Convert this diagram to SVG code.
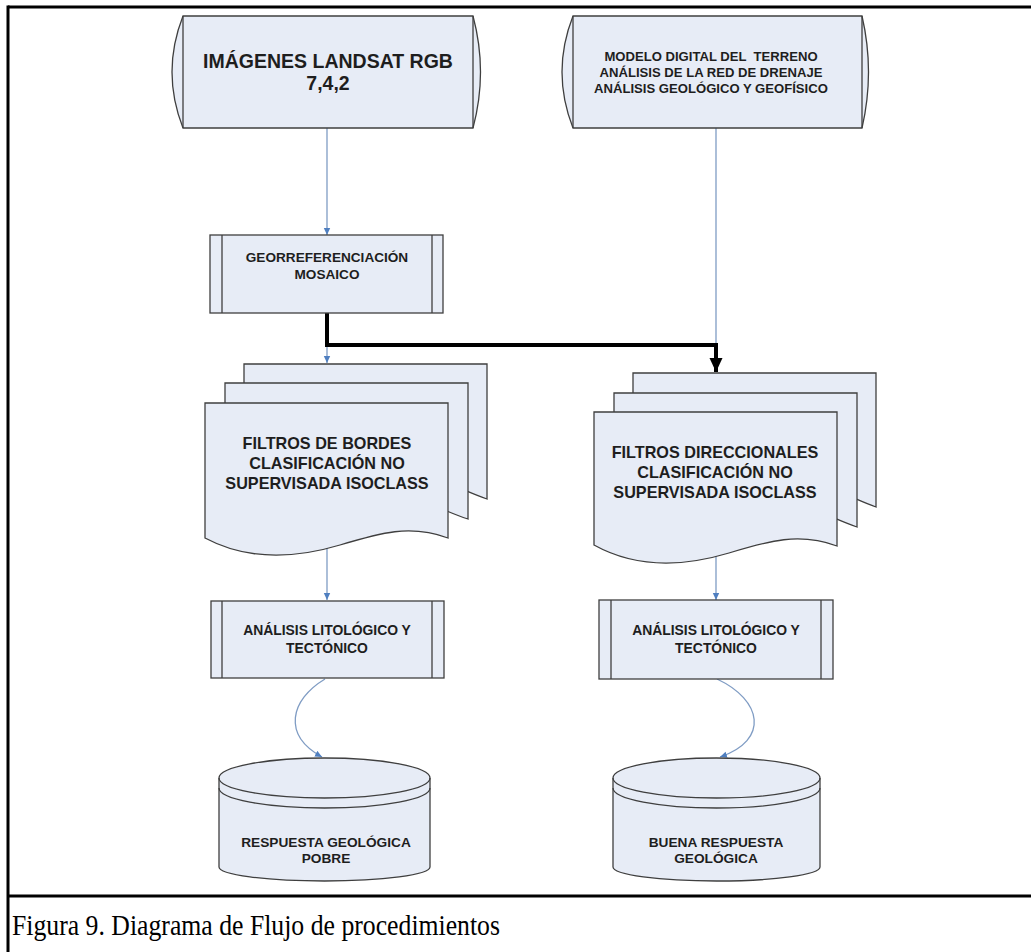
<svg xmlns="http://www.w3.org/2000/svg" width="1031" height="952" viewBox="0 0 1031 952">
<style>
.shape{fill:#e7ecf6;stroke:#3f3f3f;stroke-width:1.3}
.inner{fill:none;stroke:#3f3f3f;stroke-width:1.3}
.lbl{font-family:"Liberation Sans",Arial,sans-serif;font-weight:bold;fill:#1e1e1e;text-anchor:middle}
.thin{fill:none;stroke:#7f9cc4;stroke-width:1.3}
.frame{stroke:#000;stroke-width:3;fill:none}
</style>
<defs>
<marker id="blueArrow" markerWidth="8" markerHeight="8" refX="7" refY="4" orient="auto" markerUnits="userSpaceOnUse">
<path d="M0,0.8 L7,4 L0,7.2 Z" fill="#4f7fc0"/>
</marker>
<marker id="blackArrow" markerWidth="16" markerHeight="14" refX="14" refY="7" orient="auto" markerUnits="userSpaceOnUse">
<path d="M0,0.5 L14,7 L0,13.5 Z" fill="#000"/>
</marker>
</defs>
<rect width="1031" height="952" fill="#fff"/>
<g id="frame">
<line class="frame" x1="8" y1="7" x2="1031" y2="7"/>
<line class="frame" x1="8" y1="5.5" x2="8" y2="952"/>
<line class="frame" x1="8" y1="896" x2="1031" y2="896"/>
</g>
<g id="connectors">
<line class="thin" x1="327" y1="128" x2="327" y2="235" marker-end="url(#blueArrow)"/>
<line class="thin" x1="716" y1="128" x2="716" y2="345"/>
<line class="thin" x1="327" y1="313" x2="327" y2="363" marker-end="url(#blueArrow)"/>
<path d="M327,313 V345 H716 V372" fill="none" stroke="#000" stroke-width="4" marker-end="url(#blackArrow)"/>
<line class="thin" x1="327" y1="546" x2="327" y2="600" marker-end="url(#blueArrow)"/>
<line class="thin" x1="716" y1="556" x2="716" y2="600" marker-end="url(#blueArrow)"/>
<path class="thin" d="M325,679 C290,700 282,735 322,757" marker-end="url(#blueArrow)"/>
<path class="thin" d="M717,679 C762,700 770,740 720,757" marker-end="url(#blueArrow)"/>
</g>
<g id="landsat">
<path class="shape" d="M183,16 L473,16 Q488,72 473,128 L183,128 Q161,72 183,16 Z"/>
<line class="inner" x1="183" y1="16" x2="183" y2="128"/>
<line class="inner" x1="473" y1="16" x2="473" y2="128"/>
<text class="lbl" x="328" y="68" font-size="19.5">IMÁGENES LANDSAT RGB</text>
<text class="lbl" x="328" y="90" font-size="19.5">7,4,2</text>
</g>
<g id="modelo">
<path class="shape" d="M573,16 L862,16 Q875,72 862,128 L573,128 Q551,72 573,16 Z"/>
<line class="inner" x1="573" y1="16" x2="573" y2="128"/>
<line class="inner" x1="862" y1="16" x2="862" y2="128"/>
<text class="lbl" x="711" y="61" font-size="13.1" xml:space="preserve">MODELO DIGITAL DEL  TERRENO</text>
<text class="lbl" x="711" y="77" font-size="13.1">ANÁLISIS DE LA RED DE DRENAJE</text>
<text class="lbl" x="711" y="93" font-size="13.1">ANÁLISIS GEOLÓGICO Y GEOFÍSICO</text>
</g>
<g id="georref">
<rect class="shape" x="210" y="235" width="233" height="78"/>
<line class="inner" x1="222" y1="235" x2="222" y2="313"/>
<line class="inner" x1="432" y1="235" x2="432" y2="313"/>
<text class="lbl" x="327" y="262" font-size="13.6">GEORREFERENCIACIÓN</text>
<text class="lbl" x="327" y="279" font-size="13.6">MOSAICO</text>
</g>
<g id="filtrosBordes">
<path class="shape" d="M244,364 H487 V499 C460,490 450,480 420,480 L244,480 Z"/>
<path class="shape" d="M225,383 H468 V519 C440,510 430,500 400,500 L225,500 Z"/>
<path class="shape" d="M205,403 H448 V538 C410,524 380,533 340,545 C300,557 250,562 205,538 Z"/>
<text class="lbl" x="327" y="449" font-size="16.2">FILTROS DE BORDES</text>
<text class="lbl" x="327" y="469" font-size="16.2">CLASIFICACIÓN NO</text>
<text class="lbl" x="327" y="489" font-size="16.2">SUPERVISADA ISOCLASS</text>
</g>
<g id="filtrosDireccionales">
<path class="shape" d="M633,373 H876 V507 C850,498 840,488 810,488 L633,488 Z"/>
<path class="shape" d="M614,393 H857 V527 C830,518 820,508 790,508 L614,508 Z"/>
<path class="shape" d="M594,412 H837 V546 C799,532 769,541 729,553 C689,565 639,570 594,545 Z"/>
<text class="lbl" x="715" y="458" font-size="16.2">FILTROS DIRECCIONALES</text>
<text class="lbl" x="715" y="478" font-size="16.2">CLASIFICACIÓN NO</text>
<text class="lbl" x="715" y="498" font-size="16.2">SUPERVISADA ISOCLASS</text>
</g>
<g id="analisisIzq">
<rect class="shape" x="211" y="601" width="233" height="77"/>
<line class="inner" x1="222" y1="601" x2="222" y2="678"/>
<line class="inner" x1="432" y1="601" x2="432" y2="678"/>
<text class="lbl" x="327" y="635" font-size="13.9">ANÁLISIS LITOLÓGICO Y</text>
<text class="lbl" x="327" y="653" font-size="13.9">TECTÓNICO</text>
</g>
<g id="analisisDer">
<rect class="shape" x="599" y="600" width="234" height="79"/>
<line class="inner" x1="611" y1="600" x2="611" y2="679"/>
<line class="inner" x1="821" y1="600" x2="821" y2="679"/>
<text class="lbl" x="716" y="635" font-size="13.9">ANÁLISIS LITOLÓGICO Y</text>
<text class="lbl" x="716" y="653" font-size="13.9">TECTÓNICO</text>
</g>
<g id="respuestaPobre">
<path class="shape" d="M219,778 A105.5,20 0 0 1 430,778 V867 A105.5,14 0 0 1 219,867 Z"/>
<path class="inner" d="M219,788 A105.5,20 0 0 0 430,788"/>
<path class="inner" d="M219,778 A105.5,20 0 0 0 430,778"/>
<text class="lbl" x="326" y="847" font-size="13.7">RESPUESTA GEOLÓGICA</text>
<text class="lbl" x="326" y="863" font-size="13.7">POBRE</text>
</g>
<g id="buenaRespuesta">
<path class="shape" d="M613,778 A103.5,20 0 0 1 820,778 V867 A103.5,14 0 0 1 613,867 Z"/>
<path class="inner" d="M613,788 A103.5,20 0 0 0 820,788"/>
<path class="inner" d="M613,778 A103.5,20 0 0 0 820,778"/>
<text class="lbl" x="716" y="847" font-size="13.7">BUENA RESPUESTA</text>
<text class="lbl" x="716" y="863" font-size="13.7">GEOLÓGICA</text>
</g>
<g id="caption">
<text x="12" y="935" font-family="'Liberation Serif','Times New Roman',serif" font-size="29" fill="#000" textLength="488" lengthAdjust="spacingAndGlyphs">Figura 9. Diagrama de Flujo de procedimientos</text>
</g>
</svg>
